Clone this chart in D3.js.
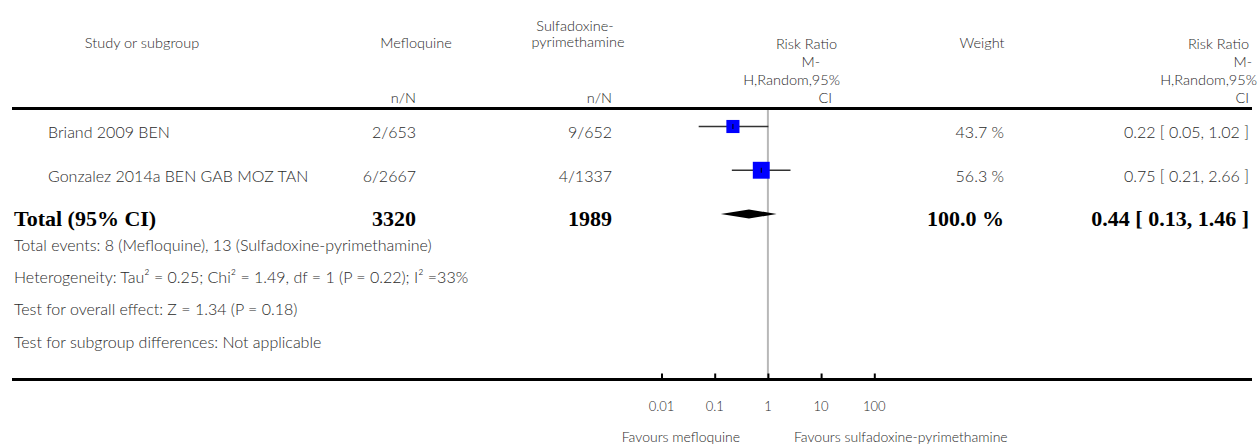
<!DOCTYPE html>
<html>
<head>
<meta charset="utf-8">
<script src="https://cdn.jsdelivr.net/npm/d3@7"></script>
<style>
  html, body { margin: 0; padding: 0; background: #fff; }
  svg { display: block; }
  .reg { font-family: Lato, "Open Sans", sans-serif; font-size: 16px; font-weight: 300; fill: #2a2a2a; }
  .head { font-family: Lato, "Open Sans", sans-serif; font-size: 14.5px; font-weight: 300; fill: #2a2a2a; }
  .bold { font-family: "Liberation Serif", "DejaVu Serif", serif; font-size: 22px; font-weight: bold; fill: #000; }
</style>
</head>
<body>
<svg id="chart" width="1259" height="445"></svg>
<script>
// ---- data ----
const studies = ["Briand 2009 BEN", "Gonzalez 2014a BEN GAB MOZ TAN"];
const mefloquineNN = ["2/653", "6/2667"];
const spNN = ["9/652", "4/1337"];
const rr = [0.22, 0.75];
const ciLow = [0.05, 0.21];
const ciHigh = [1.02, 2.66];
const weights = [43.7, 56.3];
const weightLabels = ["43.7 %", "56.3 %"];
const rrLabels = ["0.22 [ 0.05, 1.02 ]", "0.75 [ 0.21, 2.66 ]"];

const totalLabel = "Total (95% CI)";
const totalMefloquine = "3320";
const totalSP = "1989";
const totalRR = 0.44;
const totalLow = 0.13;
const totalHigh = 1.46;
const totalWeight = "100.0 %";
const totalRRLabel = "0.44 [ 0.13, 1.46 ]";

const notes = [
  "Total events: 8 (Mefloquine), 13 (Sulfadoxine-pyrimethamine)",
  "Heterogeneity: Tau\u00B2 = 0.25; Chi\u00B2 = 1.49, df = 1 (P = 0.22); I\u00B2 =33%",
  "Test for overall effect: Z = 1.34 (P = 0.18)",
  "Test for subgroup differences: Not applicable"
];

const tickValues = [0.01, 0.1, 1, 10, 100];
const tickLabels = ["0.01", "0.1", "1", "10", "100"];
const favoursLeft = "Favours mefloquine";
const favoursRight = "Favours sulfadoxine-pyrimethamine";

// ---- layout ----
const svg = d3.select("#chart");
const x = d3.scaleLog().domain([0.01, 100]).range([661.5, 874.3]);
const rowY = d3.scaleLinear().domain([0, 2]).range([126.5, 214]);
const noteY = d3.scaleLinear().domain([0, 3]).range([244, 341]);
const sizeScale = d3.scaleLinear().domain([0, 100]).range([0, 30]);
const textShift = 5;

const topLine = 108.5, axisY = 379.5;

function txt(xp, yp, s, anchor, cls) {
  return svg.append("text").attr("x", xp).attr("y", yp)
    .attr("text-anchor", anchor).attr("dominant-baseline", "central")
    .attr("class", cls || "reg").text(s);
}

// headers
txt(142, 42, "Study or subgroup", "middle", "head");
txt(416, 42, "Mefloquine", "middle", "head");
txt(416, 97, "n/N", "end", "head");
txt(575, 25, "Sulfadoxine-", "middle", "head");
txt(578, 41, "pyrimethamine", "middle", "head");
txt(612, 97, "n/N", "end", "head");
txt(837, 43, "Risk Ratio", "end", "head");
txt(820, 61, "M-", "end", "head");
txt(840, 79, "H,Random,95%", "end", "head");
txt(832, 97, "CI", "end", "head");
txt(982, 42, "Weight", "middle", "head");
txt(1249, 43, "Risk Ratio", "end", "head");
txt(1252, 61, "M-", "end", "head");
txt(1257, 79, "H,Random,95%", "end", "head");
txt(1249, 97, "CI", "end", "head");

// vertical line of no effect
svg.append("line").attr("x1", x(1)).attr("x2", x(1))
  .attr("y1", topLine).attr("y2", axisY)
  .attr("stroke", "#b8b8b8").attr("stroke-width", 2);

// header rule
svg.append("line").attr("x1", 12).attr("x2", 1252).attr("y1", topLine).attr("y2", topLine)
  .attr("stroke", "#000").attr("stroke-width", 3);

// study rows
studies.forEach((s, i) => {
  const y = rowY(i);
  const ty = y + textShift;
  txt(48, ty, s, "start");
  txt(416, ty, mefloquineNN[i], "end");
  txt(612, ty, spNN[i], "end");
  txt(1004, ty, weightLabels[i], "end");
  txt(1249, ty, rrLabels[i], "end");
  svg.append("line").attr("x1", x(ciLow[i])).attr("x2", x(ciHigh[i]))
    .attr("y1", y).attr("y2", y).attr("stroke", "#333").attr("stroke-width", 1.5);
  const sz = sizeScale(weights[i]);
  svg.append("rect").attr("x", x(rr[i]) - sz / 2).attr("y", y - sz / 2)
    .attr("width", sz).attr("height", sz).attr("fill", "#0000ff");
  svg.append("line").attr("x1", x(rr[i])).attr("x2", x(rr[i]))
    .attr("y1", y - 2.5).attr("y2", y + 2.5).attr("stroke", "#000").attr("stroke-width", 1);
});

// total row
const dy = rowY(2);
const tty = dy + 4;
txt(14, tty, totalLabel, "start", "bold");
txt(416, tty, totalMefloquine, "end", "bold");
txt(612, tty, totalSP, "end", "bold");
txt(1004, tty, totalWeight, "end", "bold");
txt(1249, tty, totalRRLabel, "end", "bold");
svg.append("path")
  .attr("d", `M${x(totalLow)},${dy} L${x(totalRR)},${dy - 4.5} L${x(totalHigh)},${dy} L${x(totalRR)},${dy + 4.5} Z`)
  .attr("fill", "#000");

// notes
notes.forEach((n, i) => txt(14, noteY(i), n, "start"));

// axis
svg.append("line").attr("x1", 12).attr("x2", 1252).attr("y1", axisY).attr("y2", axisY)
  .attr("stroke", "#000").attr("stroke-width", 3);
const axis = d3.axisTop(x).tickValues(tickValues).tickSize(6).tickFormat("");
const ag = svg.append("g").attr("transform", `translate(0,${axisY})`).call(axis);
ag.select(".domain").remove();
ag.selectAll(".tick line").attr("stroke", "#000").attr("stroke-width", 2);
tickValues.forEach((v, i) => txt(x(v), 406, tickLabels[i], "middle").style("font-size", "13px"));
txt(740, 436, favoursLeft, "end").style("font-size", "14px");
txt(794, 436, favoursRight, "start").style("font-size", "14px");
</script>
</body>
</html>
